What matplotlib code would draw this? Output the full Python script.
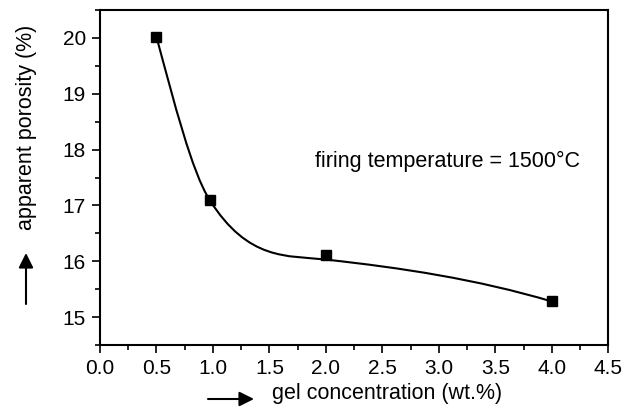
import matplotlib
matplotlib.use("Agg")
import matplotlib.pyplot as plt
from matplotlib.path import Path
from matplotlib.patches import PathPatch
from matplotlib.ticker import MultipleLocator

plt.rcParams['font.family'] = ['Liberation Sans', 'DejaVu Sans']

# measured points
gel_conc = [0.5, 0.97, 2.0, 4.0]
porosity = [20.02, 17.1, 16.12, 15.28]

# smooth guide curve: anchors and tangent slopes
curve_x = [0.5, 0.97, 2.0, 4.0]
curve_y = [20.02, 17.1, 16.03, 15.28]
curve_slope = [-7.5, -3.2, -0.22, -0.6]

xticks = [0.0, 0.5, 1.0, 1.5, 2.0, 2.5, 3.0, 3.5, 4.0, 4.5]
yticks = [15, 16, 17, 18, 19, 20]

fig = plt.figure(figsize=(6.28, 4.12), dpi=100)
ax = fig.add_axes([0.1592, 0.1626, 0.8094, 0.8131])

# cubic Hermite segments drawn as bezier path
verts = [(curve_x[0], curve_y[0])]
codes = [Path.MOVETO]
for i in range(len(curve_x) - 1):
    h = curve_x[i + 1] - curve_x[i]
    verts += [(curve_x[i] + h / 3, curve_y[i] + curve_slope[i] * h / 3),
              (curve_x[i + 1] - h / 3, curve_y[i + 1] - curve_slope[i + 1] * h / 3),
              (curve_x[i + 1], curve_y[i + 1])]
    codes += [Path.CURVE4] * 3
ax.add_patch(PathPatch(Path(verts, codes), facecolor='none', edgecolor='black', lw=1.5))

ax.plot(gel_conc, porosity, linestyle='none', marker='s', markersize=7.5, color='black')

ax.set_xlim(0, 4.5)
ax.set_ylim(14.5, 20.5)
ax.set_xticks(xticks)
ax.set_xticklabels([f'{t:.1f}' for t in xticks])
ax.set_yticks(yticks)
ax.xaxis.set_minor_locator(MultipleLocator(0.25))
ax.yaxis.set_minor_locator(MultipleLocator(0.5))
ax.tick_params(which='both', direction='out', width=1.2, labelsize=15, top=False, right=False)
ax.tick_params(which='major', length=6, pad=4)
ax.tick_params(which='minor', length=3.5)
for sp in ax.spines.values():
    sp.set_linewidth(1.5)

ax.text(1.9, 17.78, 'firing temperature = 1500°C', fontsize=15.5, va='center', ha='left')

fig.text(387 / 628, 1 - 394 / 412, 'gel concentration (wt.%)', fontsize=15.5, ha='center', va='center')
fig.text(27 / 628, 1 - 127.5 / 412, 'apparent porosity (%)', fontsize=15.5, ha='center', va='center',
         rotation=90)
arrow_style = dict(arrowstyle='-|>,head_length=0.4,head_width=0.2', lw=1.5, mutation_scale=22,
                   color='black', shrinkA=0, shrinkB=0)
ax.annotate('', xy=(254 / 628, 1 - 399 / 412), xytext=(208 / 628, 1 - 399 / 412),
            xycoords='figure fraction', textcoords='figure fraction', arrowprops=arrow_style)
ax.annotate('', xy=(26 / 628, 1 - 253 / 412), xytext=(26 / 628, 1 - 304 / 412),
            xycoords='figure fraction', textcoords='figure fraction', arrowprops=arrow_style)

fig.savefig('out.png', dpi=100)
